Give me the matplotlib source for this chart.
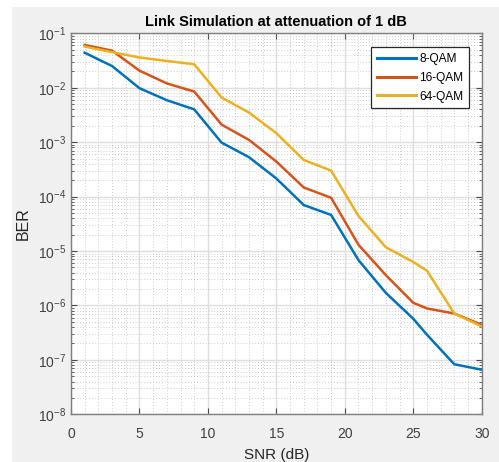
import numpy as np
import matplotlib
matplotlib.use('Agg')
import matplotlib.pyplot as plt
from matplotlib.patches import Rectangle
from matplotlib.ticker import LogLocator, NullFormatter, MultipleLocator

# SNR points (dB) and BER per modulation
snr = [1, 3, 5, 7, 9, 11, 13, 15, 17, 19, 21, 23, 25, 26, 28, 30]
ber_8qam = [4.4e-2, 2.5e-2, 9.8e-3, 5.9e-3, 4.0e-3, 9.8e-4, 5.3e-4, 2.15e-4,
            7.0e-5, 4.6e-5, 6.8e-6, 1.7e-6, 5.7e-7, 2.9e-7, 8.3e-8, 6.6e-8]
ber_16qam = [6.1e-2, 4.8e-2, 2.06e-2, 1.2e-2, 8.5e-3, 2.1e-3, 1.1e-3, 4.4e-4,
             1.47e-4, 9.5e-5, 1.3e-5, 3.6e-6, 1.12e-6, 8.8e-7, 7.1e-7, 4.4e-7]
ber_64qam = [5.7e-2, 4.5e-2, 3.6e-2, 3.1e-2, 2.7e-2, 6.6e-3, 3.5e-3, 1.46e-3,
             4.7e-4, 3.0e-4, 4.4e-5, 1.17e-5, 6.3e-6, 4.35e-6, 7.1e-7, 4.1e-7]
labels = ['8-QAM', '16-QAM', '64-QAM']
colors = ['#0072BD', '#D95319', '#EDB120']
yticks = [1e-8, 1e-7, 1e-6, 1e-5, 1e-4, 1e-3, 1e-2, 1e-1]

plt.rcParams['font.family'] = ['Liberation Sans', 'DejaVu Sans']
plt.rcParams['mathtext.fontset'] = 'custom'
plt.rcParams['mathtext.rm'] = 'Liberation Sans'
plt.rcParams['mathtext.it'] = 'Liberation Sans:italic'

fig = plt.figure(figsize=(4.99, 4.62), dpi=100)
fig.patch.set_facecolor('white')
# matlab-ish grey figure panel
fig.patches.append(Rectangle((12 / 499, 0), 1, 1 - 7 / 462, transform=fig.transFigure,
                             facecolor='#f0f0f0', edgecolor='none', zorder=-10))

ax = fig.add_axes([71 / 499, 1 - 414.3 / 462, (481.7 - 71) / 499, (414.3 - 33.3) / 462])
for y, lab, c in zip([ber_8qam, ber_16qam, ber_64qam], labels, colors):
    ax.plot(snr, y, '-', color=c, lw=1.8, label=lab)

ax.set_yscale('log')
ax.set_xlim(0, 30)
ax.set_ylim(1e-8, 1e-1)
ax.set_xticks(range(0, 31, 5))
ax.set_yticks(yticks)
ax.xaxis.set_minor_locator(MultipleLocator(1))
ax.yaxis.set_minor_locator(LogLocator(base=10, subs=np.arange(2, 10), numticks=20))
ax.yaxis.set_minor_formatter(NullFormatter())

ax.grid(True, which='major', color='#dedede', lw=1.0)
ax.grid(True, which='minor', color='#bdbdbd', lw=0.6, ls=(0, (1, 2.5)))
ax.set_axisbelow(True)
ax.tick_params(which='both', direction='in', top=True, right=True, colors='#4a4a4a',
               labelcolor='#404040', labelsize=10)
ax.tick_params(which='major', length=4)
ax.tick_params(which='minor', length=2)
ax.tick_params(axis='x', which='minor', length=0)
ax.tick_params(axis='x', which='major', pad=9)
for s in ax.spines.values():
    s.set_color('#7f7f7f')
    s.set_linewidth(1.0)

ax.set_xlabel('SNR (dB)', fontsize=11, color='#262626', labelpad=5)
ax.set_ylabel('BER', fontsize=11.5, color='#262626', labelpad=5)
ax.set_title('Link Simulation at attenuation of 1 dB', fontsize=10.5, fontweight='bold',
             color='black', pad=5)

leg = ax.legend(loc='upper right', bbox_to_anchor=(0.970, 0.963), borderaxespad=0,
                fontsize=8.6, handlelength=3.3, handletextpad=0.25, borderpad=0.5,
                labelspacing=0.55, fancybox=False, framealpha=1, edgecolor='#262626')
leg.get_frame().set_linewidth(0.9)
for h in leg.get_lines():
    h.set_linewidth(2.2)

fig.savefig('out.png', dpi=100, facecolor=fig.get_facecolor())
